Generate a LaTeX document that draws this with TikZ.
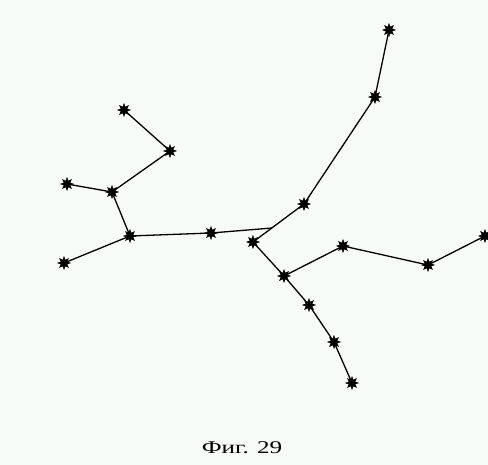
\documentclass[tikz,border=0pt]{standalone}
\usepackage{fontspec}
\usepackage{graphicx}
\newfontfamily\cyrfont{Liberation Serif}
\usetikzlibrary{shapes.geometric}
\definecolor{paper}{RGB}{247,251,247}

\begin{document}
\begin{tikzpicture}[x=1bp, y=-1bp,
    vertex/.style={star, star points=8, star point ratio=2.0, fill=black,
                   draw=black, line width=0.5bp, inner sep=0pt, minimum size=12.5bp},
    edge/.style={line width=1.3bp}]
    \useasboundingbox[fill=paper] (0,0) rectangle (488,465);

    % left branch
    \node[vertex] (a) at (124,110) {};
    \node[vertex] (b) at (170,151) {};
    \node[vertex] (c) at (67,184) {};
    \node[vertex] (d) at (112,192) {};
    \node[vertex] (e) at (130,236) {};
    \node[vertex] (f) at (64,263) {};
    \node[vertex] (g) at (211,233) {};
    \coordinate (j) at (272,228);

    % upper branch
    \node[vertex] (h) at (304,204) {};
    \node[vertex] (k) at (375,97) {};
    \node[vertex] (l) at (389,30) {};

    % right and lower branches
    \node[vertex] (i) at (253,242) {};
    \node[vertex] (m) at (284,276) {};
    \node[vertex] (n) at (343,246) {};
    \node[vertex] (o) at (428,265) {};
    \node[vertex] (p) at (485,236) {};
    \node[vertex] (q) at (309,305) {};
    \node[vertex] (r) at (334,342) {};
    \node[vertex] (s) at (352,383) {};

    \draw[edge] (a.center) -- (b.center) -- (d.center) -- (c.center);
    \draw[edge] (d.center) -- (e.center) -- (f.center);
    \draw[edge] (e.center) -- (g.center) -- (j);
    \draw[edge] (l.center) -- (k.center) -- (h.center) -- (i.center) -- (m.center);
    \draw[edge] (m.center) -- (n.center) -- (o.center) -- (p.center);
    \draw[edge] (m.center) -- (q.center) -- (r.center) -- (s.center);

    \node (caption) at (242,448) {\scalebox{1.4}[1]{\fontsize{18}{21}\cyrfont Фиг. 29}};
\end{tikzpicture}
\end{document}
